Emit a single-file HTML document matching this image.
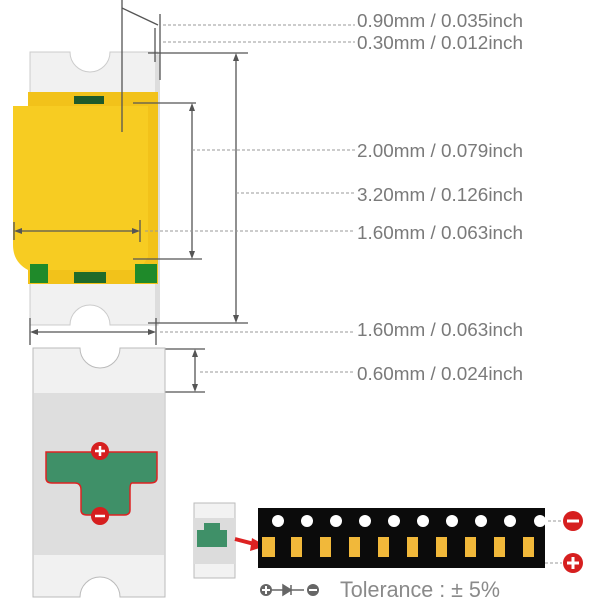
<!DOCTYPE html>
<html><head><style>body{margin:0;background:#fff}svg{display:block}</style></head><body>
<svg width="600" height="600" viewBox="0 0 600 600" xmlns="http://www.w3.org/2000/svg" font-family="Liberation Sans, sans-serif">
<defs>
<marker id="a" markerWidth="8" markerHeight="8" refX="4" refY="4" orient="auto-start-reverse" markerUnits="userSpaceOnUse"><path d="M8,4 L0,1 L0,7 Z" fill="#555"/></marker>
</defs>
<!-- top LED -->
<path d="M30,52 H70 A20,20 0 0 0 110,52 H158 V325 H110 A20,20 0 0 0 70,325 H30 Z" fill="#f1f1f1" stroke="#ccc"/>
<rect x="155" y="55" width="5" height="268" fill="#ddd"/>
<rect x="28" y="92" width="130" height="192" fill="#f2c21a"/>
<path d="M13,106 H148 V257 L140,270 H28 Q13,262 13,245 Z" fill="#f7cc22"/>
<rect x="74" y="96" width="30" height="8" fill="#1f5a2a"/>
<rect x="30" y="264" width="18" height="19" fill="#1f8a2a"/>
<rect x="74" y="272" width="32" height="11" fill="#1f6a2a"/>
<rect x="135" y="264" width="22" height="19" fill="#1f8a2a"/>
<!-- dims -->
<g stroke="#555" stroke-width="1.3" fill="none">
<line x1="122" y1="0" x2="122" y2="132"/>
<line x1="122" y1="8" x2="158" y2="25"/>
<line x1="160" y1="14" x2="160" y2="80"/>
<line x1="155" y1="28" x2="155" y2="62"/>
<line x1="148" y1="53" x2="248" y2="53"/>
<line x1="148" y1="323" x2="248" y2="323"/>
<line x1="236" y1="57" x2="236" y2="319" marker-start="url(#a)" marker-end="url(#a)"/>
<line x1="133" y1="103" x2="196" y2="103"/>
<line x1="133" y1="259" x2="202" y2="259"/>
<line x1="192" y1="107" x2="192" y2="255" marker-start="url(#a)" marker-end="url(#a)"/>
<line x1="14" y1="222" x2="14" y2="240"/><line x1="140" y1="220" x2="140" y2="242"/>
<line x1="18" y1="231" x2="136" y2="231" marker-start="url(#a)" marker-end="url(#a)"/>
<line x1="30" y1="318" x2="30" y2="345"/><line x1="156" y1="318" x2="156" y2="345"/>
<line x1="34" y1="332" x2="152" y2="332" marker-start="url(#a)" marker-end="url(#a)"/>
<line x1="155" y1="349" x2="205" y2="349"/><line x1="155" y1="392" x2="205" y2="392"/>
<line x1="195" y1="353" x2="195" y2="388" marker-start="url(#a)" marker-end="url(#a)"/>
</g>
<g stroke="#999" stroke-width="1" stroke-dasharray="3,2">
<line x1="163" y1="25" x2="355" y2="25"/><line x1="163" y1="42" x2="355" y2="42"/>
<line x1="192" y1="150" x2="355" y2="150"/><line x1="236" y1="193" x2="355" y2="193"/>
<line x1="145" y1="231" x2="355" y2="231"/><line x1="160" y1="332" x2="355" y2="332"/>
<line x1="200" y1="372" x2="355" y2="372"/>
<line x1="548" y1="521" x2="562" y2="521"/><line x1="545" y1="563" x2="562" y2="563"/>
</g>
<g fill="#7a7a7a" font-size="18">
<text x="357" y="27" textLength="166" lengthAdjust="spacingAndGlyphs">0.90mm / 0.035inch</text>
<text x="357" y="49" textLength="166" lengthAdjust="spacingAndGlyphs">0.30mm / 0.012inch</text>
<text x="357" y="157" textLength="166" lengthAdjust="spacingAndGlyphs">2.00mm / 0.079inch</text>
<text x="357" y="201" textLength="166" lengthAdjust="spacingAndGlyphs">3.20mm / 0.126inch</text>
<text x="357" y="239" textLength="166" lengthAdjust="spacingAndGlyphs">1.60mm / 0.063inch</text>
<text x="357" y="336" textLength="166" lengthAdjust="spacingAndGlyphs">1.60mm / 0.063inch</text>
<text x="357" y="380" textLength="166" lengthAdjust="spacingAndGlyphs">0.60mm / 0.024inch</text>
</g>
<!-- bottom LED -->
<path d="M33,348 H80 A20,20 0 0 0 120,348 H165 V597 H120 A20,20 0 0 0 80,597 H33 Z" fill="#f1f1f1" stroke="#bbb"/>
<rect x="34" y="393" width="130" height="162" fill="#dedede"/>
<path d="M46,452 H157 V478 Q157,483 150,483 H132 Q130,483 130,490 V510 Q130,515 124,515 H87 Q81,515 81,510 V490 Q81,483 75,483 H52 Q46,483 46,478 Z" fill="#3f9068" stroke="#d22" stroke-width="1.5"/>
<circle cx="100" cy="451" r="9" fill="#d61f1f"/><path d="M95,451 H105 M100,446 V456" stroke="#fff" stroke-width="2.5"/>
<circle cx="100" cy="516" r="9" fill="#d61f1f"/><path d="M95,516 H105" stroke="#fff" stroke-width="2.5"/>
<!-- small LED -->
<rect x="194" y="503" width="41" height="75" fill="#f2f2f2" stroke="#bbb"/>
<rect x="194" y="518" width="41" height="46" fill="#dcdcdc"/>
<path d="M197,530 H227 V547 H197 Z M204,523 H220 V530 H204 Z" fill="#3f9068"/>
<path d="M235,539 L258,545" stroke="#d22" stroke-width="4"/><path d="M252,538 L266,546 L250,551 Z" fill="#d22"/>
<!-- tape -->
<rect x="258" y="508" width="287" height="60" fill="#0b0b0b"/>
<g fill="#fff">
<circle cx="278" cy="521" r="6"/><circle cx="307" cy="521" r="6"/><circle cx="336" cy="521" r="6"/><circle cx="365" cy="521" r="6"/><circle cx="394" cy="521" r="6"/><circle cx="423" cy="521" r="6"/><circle cx="452" cy="521" r="6"/><circle cx="481" cy="521" r="6"/><circle cx="510" cy="521" r="6"/><circle cx="540" cy="521" r="6"/>
</g>
<g fill="#f1b83a">
<rect x="262" y="537" width="13" height="20"/><rect x="291" y="537" width="11" height="20"/><rect x="320" y="537" width="11" height="20"/><rect x="349" y="537" width="11" height="20"/><rect x="378" y="537" width="11" height="20"/><rect x="407" y="537" width="11" height="20"/><rect x="436" y="537" width="11" height="20"/><rect x="465" y="537" width="11" height="20"/><rect x="494" y="537" width="11" height="20"/><rect x="523" y="537" width="11" height="20"/>
</g>
<circle cx="573" cy="521" r="10" fill="#d61f1f"/><path d="M567,521 H579" stroke="#fff" stroke-width="3"/>
<circle cx="573" cy="563" r="10" fill="#d61f1f"/><path d="M567,563 H579 M573,557 V569" stroke="#fff" stroke-width="3"/>
<!-- legend -->
<circle cx="266" cy="590" r="6" fill="#666"/><path d="M262,590 H270 M266,586 V594" stroke="#fff" stroke-width="2"/>
<path d="M272,590 H304 M283,585 L291,590 L283,595 Z M291,585 V595" stroke="#666" stroke-width="1.5" fill="#666"/>
<circle cx="313" cy="590" r="6" fill="#666"/><path d="M309,590 H317" stroke="#fff" stroke-width="2"/>
<text x="340" y="597" font-size="22" fill="#8a8a8a" textLength="160" lengthAdjust="spacingAndGlyphs">Tolerance : ± 5%</text>
</svg>
</body></html>
